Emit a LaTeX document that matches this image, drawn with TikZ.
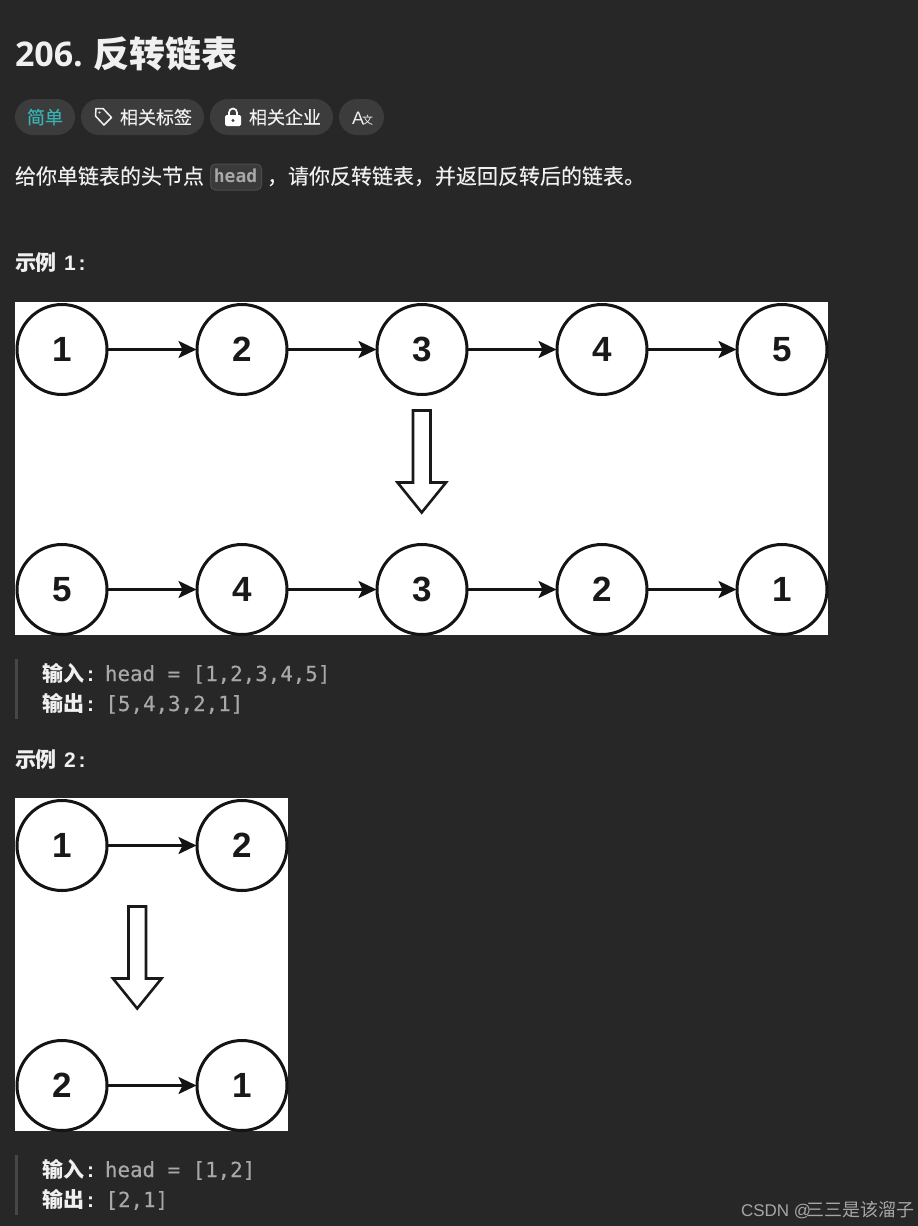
\documentclass[tikz,border=0pt]{standalone}
\usepackage{fontspec}
\usetikzlibrary{arrows.meta}
\setmainfont{Noto Sans}
\newfontfamily\titlenum{Open Sans}
\newfontfamily\cjk{Noto Sans CJK SC}
\newfontfamily\cjkm[FakeBold=0.2]{Noto Sans CJK SC}
\newfontfamily\codefont[FakeBold=0.4]{DejaVu Sans Mono}
\newfontfamily\chipfont{DejaVu Sans Mono}
\newfontfamily\numfont{Liberation Sans}
\newfontfamily\wmfont{Liberation Sans}
\definecolor{bgc}{HTML}{272727}
\definecolor{pillc}{HTML}{3C3C3C}
\definecolor{txt}{HTML}{F0F0F0}
\definecolor{teal}{HTML}{38B2B2}
\definecolor{codec}{HTML}{A8A8A8}
\definecolor{barc}{HTML}{474747}
\definecolor{chipc}{HTML}{3A3A3A}
\definecolor{chipb}{HTML}{4C4C4C}
\definecolor{wm}{HTML}{A6A6A6}
\newcommand{\hd}[1]{{\numfont\bfseries #1}}
\tikzset{
  x=1pt,y=-1pt,
  lab/.style={anchor=base west,inner sep=0pt,outer sep=0pt,text=txt},
  body/.style={lab,font=\cjkm\fontsize{21}{21}\selectfont},
  heading/.style={lab,font=\cjk\bfseries\fontsize{21}{21}\selectfont},
  tagt/.style={lab,font=\cjkm\fontsize{18}{18}\selectfont},
  codet/.style={lab,text=codec,font=\codefont\fontsize{20.8}{21}\selectfont},
  pill/.style={draw=none,fill=pillc,rounded corners=18pt,minimum height=36pt,inner sep=0pt,outer sep=0pt,anchor=west},
  panel/.style={fill=white,draw=none},
  lnode/.style={circle,draw=black!92,line width=3pt,fill=white,minimum size=90pt,inner sep=0pt,outer sep=0pt,font=\numfont\bfseries\fontsize{35}{35}\selectfont,text=black!90},
  link/.style={draw=black!92,line width=2.5pt,-{Stealth[length=18pt,width=17pt,inset=4pt]},shorten >=0.5pt},
  bigarrow/.style={draw=black!90,line width=2.6pt,fill=white,line join=miter},
  bar/.style={fill=barc,draw=none},
}
\begin{document}
\begin{tikzpicture}
\useasboundingbox[fill=bgc] (0,0) rectangle (918,1226);
% title
\node[lab,font=\titlenum\bfseries\fontsize{34}{34}\selectfont] (tnum) at (15,66) {206.};
\node[lab,font=\cjk\bfseries\fontsize{36}{36}\selectfont] (ttxt) at (93,67) {反转链表};
% pills
\node[pill,minimum width=60pt] (p1) at (15,117) {};
\node[pill,minimum width=123pt] (p2) at (81,117) {};
\node[pill,minimum width=123pt] (p3) at (210,117) {};
\node[pill,minimum width=45pt] (p4) at (339,117) {};
\node[tagt,text=teal] (t1) at (27,124) {简单};
\node[tagt] (t2) at (120,124) {相关标签};
\node[tagt] (t3) at (249,124) {相关企业};
\node[lab,font=\numfont\fontsize{18}{18}\selectfont] (t4a) at (352,124) {A};
\node[lab,font=\cjk\fontsize{11}{11}\selectfont] (t4b) at (362,124) {文};
% tag icon
\draw[txt,line width=1.5pt,line join=round] (96,108.5) -- (103,108.5) -- (111.5,117.5) -- (104,125) -- (95.5,116) -- cycle;
\fill[txt] (99.5,112.5) circle (1.1pt);
% lock icon
\draw[white,line width=1.7pt] (229,115) -- (229,112.5) arc[start angle=180,end angle=0,radius=4pt] -- (237,115);
\fill[white,rounded corners=1.5pt] (225,115) rectangle (241,126);
\fill[pillc] (233,120.5) circle (1.7pt);
% description
\node[body] (d1) at (15,184) {给你单链表的头节点};
\node[draw=chipb,fill=chipc,rounded corners=5pt,line width=1pt,minimum width=51pt,minimum height=26pt,inner sep=0pt,anchor=west] (chip) at (210,177) {};
\node[lab,text=codec,font=\chipfont\bfseries\fontsize{18}{18}\selectfont,anchor=base] (chipt) at (235.5,182.5) {head};
\node[body] (d2) at (267,184) {，};
\node[body] (d3) at (288,184) {请你反转链表，并返回反转后的链表。};
% example 1
\node[heading] (h1) at (15,270) {示例\hspace{7pt}\hd{1\hspace{3pt}:}};
\fill[panel] (15,302) rectangle (828,635);
\foreach \n/\x/\v in {a1/62/1,a2/242/2,a3/422/3,a4/602/4,a5/782/5}
  \node[lnode] (\n) at (\x,349.5) {\v};
\foreach \n/\x/\v in {b1/62/5,b2/242/4,b3/422/3,b4/602/2,b5/782/1}
  \node[lnode] (\n) at (\x,589.5) {\v};
\foreach \u/\w in {a1/a2,a2/a3,a3/a4,a4/a5,b1/b2,b2/b3,b3/b4,b4/b5}
  \draw[link] (\u) -- (\w);
\draw[bigarrow] (413,410.5) -- (430.5,410.5) -- (430.5,482.5) -- (446,482.5) -- (421.7,512.5) -- (397.5,482.5) -- (413,482.5) -- cycle;
% io 1
\fill[bar] (15,659) rectangle (18,719);
\node[heading] (i1) at (42,681) {输入\hspace{3pt}\hd{:}};
\node[codet] (i1v) at (105,681) {head = [1,2,3,4,5]};
\node[heading] (o1) at (42,711) {输出\hspace{3pt}\hd{:}};
\node[codet] (o1v) at (105.5,711) {[5,4,3,2,1]};
% example 2
\node[heading] (h2) at (15,767) {示例\hspace{7pt}\hd{2\hspace{3pt}:}};
\fill[panel] (15,798) rectangle (288,1131);
\node[lnode] (c1) at (62,845.5) {1};
\node[lnode] (c2) at (242,845.5) {2};
\node[lnode] (e1) at (62,1085.5) {2};
\node[lnode] (e2) at (242,1085.5) {1};
\draw[link] (c1) -- (c2);
\draw[link] (e1) -- (e2);
\draw[bigarrow] (128.5,906.5) -- (146,906.5) -- (146,978.5) -- (161.5,978.5) -- (137.2,1008.5) -- (113,978.5) -- (128.5,978.5) -- cycle;
% io 2
\fill[bar] (15,1155) rectangle (18,1215);
\node[heading] (i2) at (42,1177) {输入\hspace{3pt}\hd{:}};
\node[codet] (i2v) at (105,1177) {head = [1,2]};
\node[heading] (o2) at (42,1207) {输出\hspace{3pt}\hd{:}};
\node[codet] (o2v) at (105.5,1207) {[2,1]};
% watermark
\node[lab,text=wm,font=\wmfont\fontsize{17}{17}\selectfont] (wm1) at (741,1216) {CSDN @};
\node[lab,text=wm,font=\cjk\fontsize{18}{18}\selectfont] (wm2) at (806,1216) {三三是该溜子};
\end{tikzpicture}
\end{document}
